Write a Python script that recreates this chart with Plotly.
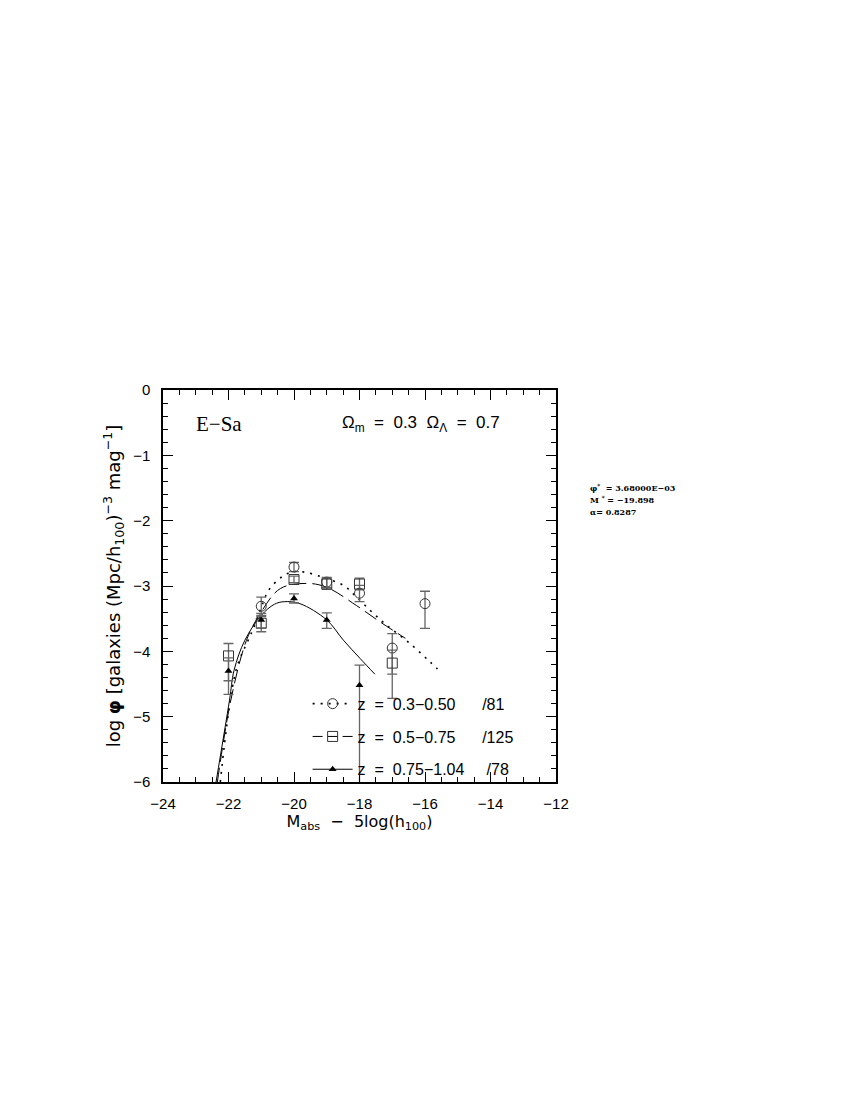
import plotly.graph_objects as go

# data points (log phi per magnitude bin)
mag_lo = [-21, -20, -19, -18, -17, -16]
phi_lo = [-3.31, -2.71, -2.94, -3.11, -3.95, -3.27]
errp_lo = [0.14, 0.07, 0.07, 0.12, 0.22, 0.19]
errm_lo = [0.14, 0.07, 0.08, 0.13, 0.40, 0.38]

mag_mid = [-22, -21, -20, -19, -18, -17]
phi_mid = [-4.07, -3.57, -2.90, -2.97, -2.97, -4.18]
errp_mid = [0.19, 0.10, 0.05, 0.09, 0.09, 0.20]
errm_mid = [0.38, 0.13, 0.05, 0.08, 0.09, 0.54]

mag_hi = [-22, -21, -20, -19, -18]
phi_hi = [-4.30, -3.52, -3.19, -3.52, -4.52]
errp_hi = [0.20, 0.10, 0.07, 0.11, 0.31]
errm_hi = [0.36, 0.12, 0.07, 0.13, 1.60]

# Schechter fit curves
fit_lo_x = [-22.25, -21.77, -21.4, -21.24, -21.0, -20.78, -20.37, -20.02, -19.66,
            -19.10, -18.49, -18.19, -17.68, -17.17, -16.46, -15.85, -15.62]
fit_lo_y = [-6.0, -4.29, -3.83, -3.65, -3.33, -3.07, -2.86, -2.78, -2.79,
            -2.87, -2.99, -3.12, -3.37, -3.60, -3.88, -4.16, -4.27]
fit_mid_x = [-22.34, -21.93, -21.45, -21.03, -20.42, -19.61, -19.0, -18.09, -17.37, -16.6]
fit_mid_y = [-6.0, -4.75, -3.83, -3.42, -3.04, -2.96, -3.02, -3.30, -3.55, -3.80]
fit_hi_x = [-22.38, -21.97, -21.83, -21.5, -21.0, -20.6, -20.3, -19.82, -19.0, -18.49, -17.98, -17.53]
fit_hi_y = [-6.0, -4.75, -4.29, -3.83, -3.45, -3.28, -3.24, -3.27, -3.52, -3.83, -4.11, -4.35]

labels = ['z\u00a0\u00a0=\u00a0\u00a00.3\u22120.50\u00a0\u00a0\u00a0\u00a0\u00a0\u00a0/81',
          'z\u00a0\u00a0=\u00a0\u00a00.5\u22120.75\u00a0\u00a0\u00a0\u00a0\u00a0\u00a0/125',
          'z\u00a0\u00a0=\u00a0\u00a00.75\u22121.04\u00a0\u00a0\u00a0\u00a0\u00a0/78']

dots = '2px,6px'
dashes = '14px,6px'
errcol = '#666666'

fig = go.Figure()

# fitted curves
fig.add_trace(go.Scatter(x=fit_lo_x, y=fit_lo_y, mode='lines', line_shape='spline',
                         line=dict(color='black', width=1.6, dash=dots), showlegend=False))
fig.add_trace(go.Scatter(x=fit_mid_x, y=fit_mid_y, mode='lines', line_shape='spline',
                         line=dict(color='black', width=1, dash=dashes), showlegend=False))
fig.add_trace(go.Scatter(x=fit_hi_x, y=fit_hi_y, mode='lines', line_shape='spline',
                         line=dict(color='black', width=1), showlegend=False))

# data points with error bars
def err(p, m):
    return dict(type='data', symmetric=False, array=p, arrayminus=m,
                color=errcol, thickness=1.3, width=5)

fig.add_trace(go.Scatter(x=mag_lo, y=phi_lo, mode='markers', showlegend=False,
                         marker=dict(symbol='circle-open', size=10, color='#333',
                                     line=dict(width=1)),
                         error_y=err(errp_lo, errm_lo)))
fig.add_trace(go.Scatter(x=mag_mid, y=phi_mid, mode='markers', showlegend=False,
                         marker=dict(symbol='square-open', size=10, color='#333',
                                     line=dict(width=1)),
                         error_y=err(errp_mid, errm_mid)))
fig.add_trace(go.Scatter(x=mag_hi, y=phi_hi, mode='markers', showlegend=False,
                         marker=dict(symbol='triangle-up', size=7, color='black'),
                         error_y=err(errp_hi, errm_hi)))

# legend-only entries
fig.add_trace(go.Scatter(x=[None], y=[None], mode='lines+markers', name=labels[0],
                         legendgroup='a',
                         line=dict(color='black', width=1.6, dash=dots),
                         marker=dict(symbol='circle-open', size=10, color='#333')))
fig.add_trace(go.Scatter(x=[None], y=[None], mode='lines+markers', name=labels[1],
                         legendgroup='b',
                         line=dict(color='black', width=1, dash='10px,5px'),
                         marker=dict(symbol='square-open', size=10, color='#333')))
fig.add_trace(go.Scatter(x=[None], y=[None], mode='lines+markers', name=labels[2],
                         legendgroup='c',
                         line=dict(color='black', width=1),
                         marker=dict(symbol='triangle-up', size=7, color='black')))

axfont = dict(family='Liberation Sans, Arial', size=15, color='black')

fig.update_layout(
    width=850, height=1100,
    margin=dict(l=155, r=302, t=382, b=326),
    paper_bgcolor='white', plot_bgcolor='white',
    font=dict(family='Liberation Sans, Arial', color='black'),
    showlegend=True,
    legend=dict(x=0.368, y=0.243, xanchor='left', yanchor='top',
                bgcolor='rgba(0,0,0,0)', font=dict(size=16, family='Liberation Sans, Arial'),
                tracegroupgap=9, itemwidth=40),
    xaxis=dict(range=[-24, -12], dtick=2, tick0=-24, showgrid=False, zeroline=False,
               showline=True, linecolor='black', linewidth=1.5, mirror='allticks',
               ticks='inside', ticklen=10, tickwidth=1.3, tickcolor='black',
               minor=dict(dtick=0.5, ticks='inside', ticklen=5, tickwidth=1.3, tickcolor='black'),
               tickfont=axfont, ticklabelstandoff=7,
               title=dict(text='M<sub>abs</sub>\u00a0\u00a0\u2212\u00a0\u00a05log(h<sub>100</sub>)',
                          font=dict(family='DejaVu Sans', size=16), standoff=4)),
    yaxis=dict(range=[-6, 0], dtick=1, tick0=0, showgrid=False, zeroline=False,
               showline=True, linecolor='black', linewidth=1.5, mirror='allticks',
               ticks='inside', ticklen=10, tickwidth=1.3, tickcolor='black',
               minor=dict(dtick=0.2, ticks='inside', ticklen=5, tickwidth=1.3, tickcolor='black'),
               tickfont=axfont, ticklabelstandoff=8,
               title=dict(text='log <b>\u03c6</b> [galaxies (Mpc/h<sub>100</sub>)<sup>\u22123</sup> mag<sup>\u22121</sup>]',
                          font=dict(family='DejaVu Sans', size=18), standoff=8)),
)

fig.add_annotation(xref='paper', yref='paper', x=0.08, y=0.914, xanchor='left', yanchor='middle',
                   text='E\u2212Sa', showarrow=False,
                   font=dict(family='Liberation Serif', size=21, color='black'))
fig.add_annotation(xref='paper', yref='paper', x=0.45, y=0.912, xanchor='left', yanchor='middle',
                   text='\u03a9<sub>m</sub>\u00a0\u00a0=\u00a0\u00a00.3\u00a0\u00a0\u03a9<sub>\u039b</sub>\u00a0\u00a0=\u00a0\u00a00.7',
                   showarrow=False, font=dict(family='Liberation Sans', size=17, color='black'))

side = ['<b>\u03c6<sup>*</sup>\u00a0\u00a0=\u00a03.68000E\u221203</b>',
        '<b>M\u00a0<sup>*</sup>\u00a0=\u00a0\u221219.898</b>',
        '<b>\u03b1=\u00a00.8287</b>']
for i, s in enumerate(side):
    fig.add_annotation(xref='paper', yref='paper', x=1.081, y=0.751 - 0.031 * i,
                       xanchor='left', yanchor='middle', text=s, showarrow=False,
                       font=dict(family='DejaVu Serif', size=8, color='black'))

fig.write_html("out.html")
